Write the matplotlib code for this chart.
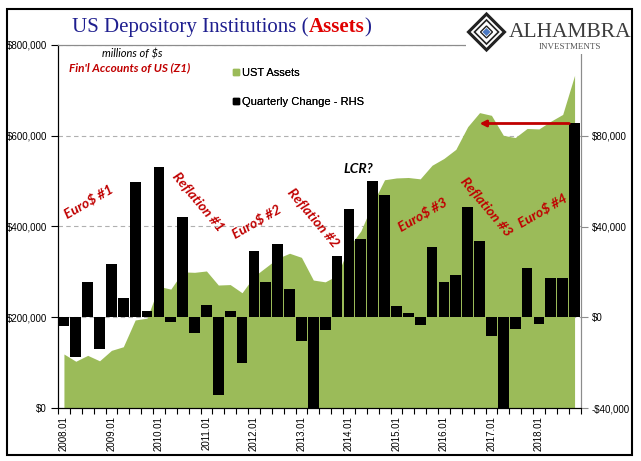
import matplotlib
matplotlib.use("Agg")
import matplotlib.pyplot as plt
from matplotlib.lines import Line2D
from matplotlib.patches import Rectangle, Polygon
from matplotlib.ticker import FuncFormatter

# quarterly categories 2008.01 .. 2018.04
quarters = [f"{y}.{q:02d}" for y in range(2008, 2019) for q in range(1, 5)]

# UST assets, millions of $ (left axis)
ust_assets = [
    119000, 103000, 116000, 104000, 127000, 135000, 194000, 198000,
    268000, 262000, 300000, 299000, 302000, 271000, 272000, 254000,
    290000, 310000, 330000, 341000, 332000, 282000, 278000, 292000,
    355000, 390000, 451000, 503000, 507000, 508000, 505000, 535000,
    550000, 570000, 620000, 651000, 645000, 601000, 596000, 616000,
    615000, 632000, 647000, 733000,
]

# quarterly change, millions of $ (right axis)
quarterly_change = [
    -3800, -17400, 15400, -14200, 23300, 8300, 59800, 2600,
    66400, -2000, 44400, -6900, 5300, -34300, 2600, -20100,
    29000, 15400, 32100, 12300, -10400, -42000, -5400, 27200,
    47500, 34700, 60200, 54100, 4800, 1900, -3500, 30900,
    15400, 18600, 48800, 33800, -8200, -45000, -5300, 21500,
    -3100, 17100, 17100, 85400,
]

# (label, category position, right-axis value, rotation)
episodes = [
    ("Euro$ #1", 2.1, 51000, 30),
    ("Reflation #1", 11.3, 51000, -50),
    ("Euro$ #2", 16.2, 42000, 30),
    ("Reflation #2", 21.0, 44000, -50),
    ("Euro$ #3", 30.2, 45500, 30),
    ("Reflation #3", 35.5, 48500, -50),
    ("Euro$ #4", 40.3, 47000, 30),
]

GREEN = "#9bbb59"
NAVY = "#1f1f8f"
RED = "#e00000"
DARKRED = "#c00000"
GRAY = "#8c8c8c"
W, H = 641, 461


def px(x, y):
    # pixel position (from top-left) -> figure fraction
    return x / W, 1 - y / H


def money(v, pos=None):
    return f"-${abs(v):,.0f}" if v < 0 else f"${v:,.0f}"


def draw_title(fig):
    r = fig.canvas.get_renderer()
    x, y = px(72, 32)
    parts = [("US Depository Institutions (", NAVY, "normal"),
             ("Assets", RED, "bold"),
             (")", NAVY, "normal")]
    for s, c, w in parts:
        t = fig.text(x, y, s, color=c, fontweight=w, fontsize=15,
                     family="Liberation Serif", va="baseline")
        x = t.get_window_extent(renderer=r).x1 / W


def draw_logo(fig):
    x0, y0 = px(466, 9)
    x1, y1 = px(632, 54)
    fig.patches.append(Rectangle((x0, y1), x1 - x0, y0 - y1, transform=fig.transFigure,
                                 facecolor="white", edgecolor="none", zorder=3))
    cx, cy = 486.5, 32
    for s, lw in [(18, 2.2), (12, 1.2), (6, 1.0)]:
        pts = [px(cx - s, cy), px(cx, cy - s), px(cx + s, cy), px(cx, cy + s)]
        fig.patches.append(Polygon(pts, closed=True, transform=fig.transFigure,
                                   facecolor="none", edgecolor="#222222", lw=lw, zorder=4))
    pts = [px(cx - 4, cy), px(cx, cy - 4), px(cx + 4, cy), px(cx, cy + 4)]
    fig.patches.append(Polygon(pts, closed=True, transform=fig.transFigure,
                               facecolor="#4a78c2", edgecolor="none", zorder=5))
    fig.text(*px(509, 37), "ALHAMBRA", family="Liberation Serif", fontsize=15.5,
             color="#3c3c3c", va="baseline", zorder=5)
    fig.text(*px(570, 49), "INVESTMENTS", family="Liberation Serif", fontsize=6.5,
             color="#555555", va="baseline", ha="center", zorder=5)


def main():
    fig = plt.figure(figsize=(W / 100, H / 100), dpi=100)
    left, bottom = px(58, 408)
    right, top = px(580.5, 45)
    ax = fig.add_axes([left, bottom, right - left, top - bottom])
    ax2 = ax.twinx()

    xs = list(range(len(quarters)))
    ax.fill_between(xs, ust_assets, 0, color=GREEN, lw=0, zorder=1)
    ax2.bar(xs, quarterly_change, width=0.9, color="black", zorder=2)

    ax.set_xlim(-0.5, len(quarters) - 0.5)
    ax.set_ylim(0, 800000)
    ax.set_yticks(range(0, 800001, 200000))
    ax.yaxis.set_major_formatter(FuncFormatter(money))
    ax2.set_ylim(-40000, 120000)
    ax2.set_yticks([-40000, 0, 40000, 80000])
    ax2.yaxis.set_major_formatter(FuncFormatter(money))

    ax.set_axisbelow(True)
    ax.yaxis.grid(True, color="#b0b0b0", ls=(0, (4, 3)), lw=0.8)

    # category boundaries as ticks, Q1 labels in the middle
    ax.set_xticks([i - 0.5 for i in range(len(quarters) + 1)])
    ax.set_xticklabels([])
    ax.set_xticks([i for i in xs if i % 4 == 0], minor=True)
    ax.set_xticklabels([quarters[i] for i in xs if i % 4 == 0], minor=True,
                       rotation=90, fontsize=7, family="Liberation Sans")
    ax.tick_params(axis="x", which="major", length=4, direction="out", color="black")
    ax.tick_params(axis="x", which="minor", length=0, pad=6)
    ax.tick_params(axis="y", length=5, labelsize=7, pad=3)
    ax2.tick_params(axis="y", length=5, labelsize=7, pad=3, color=GRAY)
    for lab in ax.get_yticklabels() + ax2.get_yticklabels():
        lab.set_family("Liberation Sans")

    for a in (ax, ax2):
        a.spines["left"].set_color("black")
        a.spines["bottom"].set_color("black")
        a.spines["top"].set_color(GRAY)
        a.spines["right"].set_color(GRAY)

    for label, xq, yv, rot in episodes:
        ax2.text(xq, yv, label, rotation=rot, ha="center", va="center", color=DARKRED,
                 fontsize=10, family="Lato", fontweight="bold", style="italic",
                 rotation_mode="anchor")
    ax2.text(24.8, 65500, "LCR?", ha="center", va="center", color="black",
             fontsize=10, family="Lato", fontweight="bold", style="italic")

    ax2.annotate("", xy=(35.0, quarterly_change[-1]), xytext=(42.55, quarterly_change[-1]),
                 arrowprops=dict(arrowstyle="-|>", color=DARKRED, lw=2,
                                 mutation_scale=9, shrinkA=0, shrinkB=0))

    fig.text(*px(132, 54), "millions of $s", ha="center", va="center", fontsize=8,
             style="italic", family="Lato")
    fig.text(*px(130, 68), "Fin'l Accounts of US (Z1)", ha="center", va="center",
             fontsize=8.5, style="italic", fontweight="bold", family="Lato", color=DARKRED)

    handles = [Line2D([], [], marker="s", ls="none", color=GREEN, markersize=4),
               Line2D([], [], marker="s", ls="none", color="black", markersize=4)]
    leg = ax.legend(handles, ["UST Assets", "Quarterly Change - RHS"], loc="upper left",
                    bbox_to_anchor=px(223, 58), bbox_transform=fig.transFigure,
                    frameon=False, handlelength=0.6, handletextpad=0.2, labelspacing=1.7,
                    prop={"family": "Liberation Sans", "size": 8})
    ax.add_artist(leg)

    draw_title(fig)
    draw_logo(fig)

    x0, y0 = px(6.5, 9.5)
    x1, y1 = px(632, 455)
    fig.patches.append(Rectangle((x0, y1), x1 - x0, y0 - y1, transform=fig.transFigure,
                                 facecolor="none", edgecolor="black", lw=1.5, zorder=6))

    fig.savefig("out.png", dpi=100)


if __name__ == "__main__":
    main()
